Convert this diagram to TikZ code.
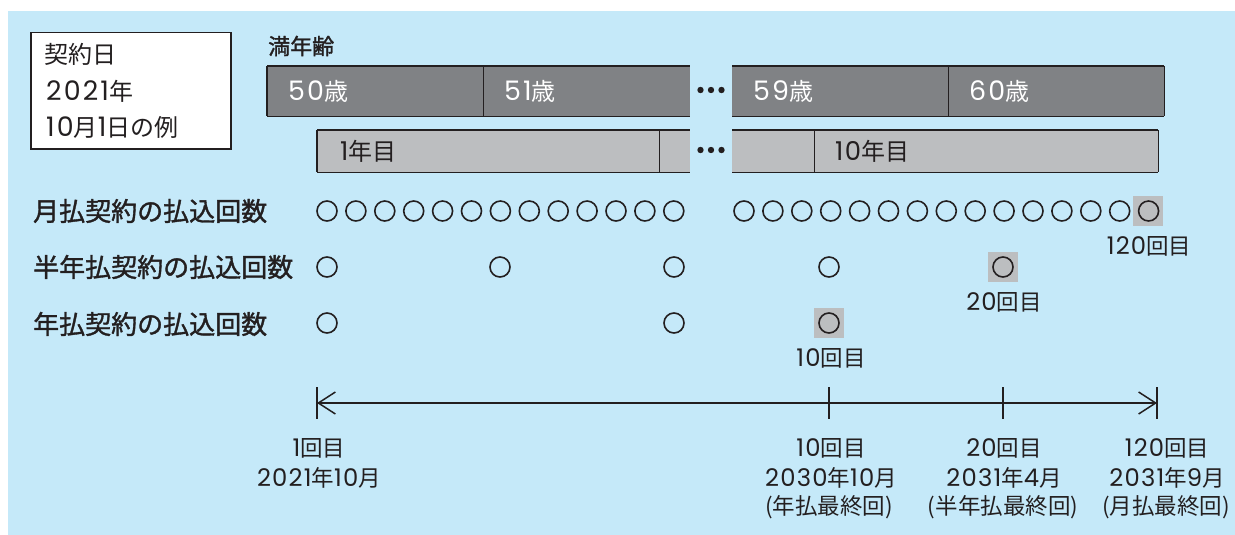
\documentclass[tikz,border=0pt]{standalone}
\usepackage{fontspec}
\setmainfont{Noto Sans CJK JP}
\newfontfamily\dgwfont{Poppins}[Scale=1.12,LetterSpace=8]
\newfontfamily\dgfont{Poppins}[Scale=1.08,LetterSpace=5]
\newfontfamily\medfont{Noto Sans CJK JP}[FakeBold=1.4]
\usetikzlibrary{arrows.meta}
\definecolor{bgblue}{HTML}{C5E9F9}
\definecolor{inkc}{HTML}{231F20}
\definecolor{bardark}{HTML}{808285}
\definecolor{barlight}{HTML}{BCBEC0}
\newcommand\dg[1]{{\dgfont#1}}
\newcommand\dgw[1]{{\dgwfont#1}}

\begin{document}
\begin{tikzpicture}[x=1pt,y=-1pt,
  txt/.style={inner sep=0pt,text=inkc,font=\fontsize{22.5}{27}\selectfont},
  boxtxt/.style={txt,anchor=west,font=\fontsize{24}{29}\selectfont},
  rowlbl/.style={txt,anchor=west,font=\fontsize{26}{31}\medfont},
  agebar/.style={inner sep=0pt,fill=bardark,minimum height=50,anchor=north west},
  yrbar/.style={inner sep=0pt,fill=barlight,minimum height=42,anchor=north west},
  agetxt/.style={boxtxt,text=white},
  barline/.style={draw=inkc,line width=1.5pt},
  pay/.style={circle,draw=inkc,line width=1.6pt,minimum size=20,inner sep=0pt},
  hl/.style={fill=barlight,minimum size=30,inner sep=0pt},
  axis/.style={draw=inkc,line width=1.5pt}]
\def\dm{28.9}

\fill[white] (0,0) rectangle (1235,535);
\fill[bgblue] (8,11) rectangle (1235,535);

% contract date box
\node[draw=inkc,fill=white,line width=1.5pt,minimum width=200,minimum height=116,anchor=north west] (datebox) at (30,32) {};
\node[boxtxt] (d1) at (44,54) {契約日};
\node[boxtxt] (d2) at (46,91) {\dgw{2021}年};
\node[boxtxt] (d3) at (46,127) {\dgw{10}月\dgw{1}日の例};

% age bar
\node[txt,anchor=west,font=\fontsize{22}{26}\medfont] (agehd) at (268,46) {満年齢};
\node[agebar,minimum width=216] (b50) at (267,66) {};
\node[agebar,minimum width=207] (b51) at (483,66) {};
\node[agebar,minimum width=216] (b59) at (732,66) {};
\node[agebar,minimum width=216] (b60) at (948,66) {};
\node[agetxt] (t50) at ([xshift=21]b50.west) {\dgw{50}歳};
\node[agetxt] (t51) at ([xshift=21]b51.west) {\dgw{51}歳};
\node[agetxt] (t59) at ([xshift=21]b59.west) {\dgw{59}歳};
\node[agetxt] (t60) at ([xshift=21]b60.west) {\dgw{60}歳};
\draw[barline] (b50.north west) -- (b51.north east) (b50.south west) -- (b51.south east);
\draw[barline] (b59.north west) -- (b60.north east) (b59.south west) -- (b60.south east);
\draw[barline] (b50.north west) -- (b50.south west) (b50.north east) -- (b50.south east);
\draw[barline] (b59.north east) -- (b59.south east) (b60.north east) -- (b60.south east);

% policy year bar
\node[yrbar,minimum width=342] (y1) at (317,130) {};
\node[yrbar,minimum width=31] (y2) at (659,130) {};
\node[yrbar,minimum width=82] (y9) at (732,130) {};
\node[yrbar,minimum width=344] (y10) at (814,130) {};
\node[boxtxt] (ty1) at ([xshift=23]y1.west) {\dg{1}年目};
\node[boxtxt] (ty10) at ([xshift=21]y10.west) {\dg{10}年目};
\draw[barline] (y1.north west) -- (y2.north east) (y1.south west) -- (y2.south east);
\draw[barline] (y9.north west) -- (y10.north east) (y9.south west) -- (y10.south east);
\draw[barline] (y1.north west) -- (y1.south west) (y1.north east) -- (y1.south east);
\draw[barline] (y9.north east) -- (y9.south east) (y10.north east) -- (y10.south east);

\foreach \yy in {90,150}
  \foreach \dx in {0,10.5,21}
    \fill[inkc] (700.5+\dx,\yy) circle (3.2);

% payment rows
\node[rowlbl] (rm) at (33,211) {月払契約の払込回数};
\node[rowlbl] (rh) at (33,267) {半年払契約の払込回数};
\node[rowlbl] (ry) at (33,324) {年払契約の払込回数};

\node[hl] (hm) at (1148,211) {};
\node[hl] (hh) at (1003,267) {};
\node[hl] (hy) at (829,323) {};

\foreach \i in {0,...,12}
  \node[pay] (m\i) at (327+\dm*\i,211) {};
\foreach \i in {0,...,14}
  \node[pay] (n\i) at (744+\dm*\i,211) {};
\foreach \x [count=\i] in {327,500,674,829,1003}
  \node[pay] (h\i) at (\x,267) {};
\foreach \x [count=\i] in {327,674,829}
  \node[pay] (a\i) at (\x,323) {};

\node[txt] (c120) at (1149,246) {\dg{120}回目};
\node[txt] (c20) at (1004,302) {\dg{20}回目};
\node[txt] (c10) at (831,358) {\dg{10}回目};

% time axis
\coordinate (tl) at (317,403);
\coordinate (t10) at (829,403);
\coordinate (t20) at (1003,403);
\coordinate (tr) at (1157,403);
\draw[axis,{Straight Barb[length=17pt,width=22pt]}-{Straight Barb[length=17pt,width=22pt]}] (tl) -- (tr);
\foreach \c in {tl,t10,t20,tr}
  \draw[axis] ([yshift=16]\c) -- ([yshift=-16]\c);

\node[txt] (l1a) at (319,448) {\dg{1}回目};
\node[txt] (l1b) at (319,478) {\dg{2021}年\dg{10}月};
\node[txt] (l10a) at (831,448) {\dg{10}回目};
\node[txt] (l10b) at (831,478) {\dg{2030}年\dg{10}月};
\node[txt] (l10c) at (829,507) {(年払最終回)};
\node[txt] (l20a) at (1004,448) {\dg{20}回目};
\node[txt] (l20b) at (1004,478) {\dg{2031}年\dg{4}月};
\node[txt] (l20c) at (1003,507) {(半年払最終回)};
\node[txt] (l120a) at (1167,448) {\dg{120}回目};
\node[txt] (l120b) at (1167,478) {\dg{2031}年\dg{9}月};
\node[txt] (l120c) at (1166,507) {(月払最終回)};
\end{tikzpicture}
\end{document}
